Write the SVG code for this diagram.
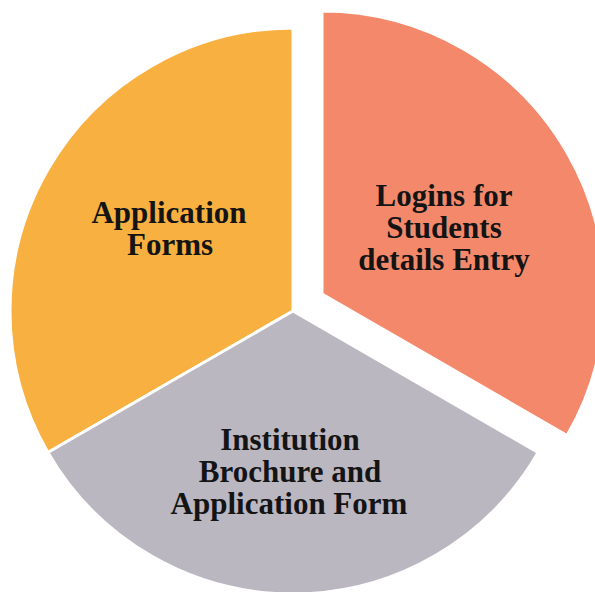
<svg xmlns="http://www.w3.org/2000/svg" width="595" height="592" viewBox="0 0 595 592">
<style>
.slice{stroke:#fff;stroke-width:3;stroke-linejoin:miter}
.lbl{font-family:"Liberation Serif","DejaVu Serif",serif;font-weight:bold;font-size:31px;fill:#141414;text-anchor:middle}
</style>
<rect width="595" height="592" fill="#fff"/>
<g id="connectors"/>
<g id="slice-application-forms">
<path class="slice" fill="#F8B140" d="M293,311 L293,28 A283,283 0 0 0 47.9,452.5 Z"/>
<text class="lbl" x="169" y="223">Application</text>
<text class="lbl" x="170" y="255">Forms</text>
</g>
<g id="slice-brochure">
<path class="slice" fill="#BBB7C1" d="M293,311 L47.9,452.5 A283,283 0 0 0 538.1,452.5 Z"/>
<text class="lbl" x="290" y="450">Institution</text>
<text class="lbl" x="290" y="482">Brochure and</text>
<text class="lbl" x="289" y="514">Application Form</text>
</g>
<g id="slice-logins">
<path class="slice" fill="#F3896A" d="M322,294 L322,11 A283,283 0 0 1 567.1,435.5 Z"/>
<text class="lbl" x="444" y="206">Logins for</text>
<text class="lbl" x="444" y="238">Students</text>
<text class="lbl" x="444" y="270">details Entry</text>
</g>
</svg>
